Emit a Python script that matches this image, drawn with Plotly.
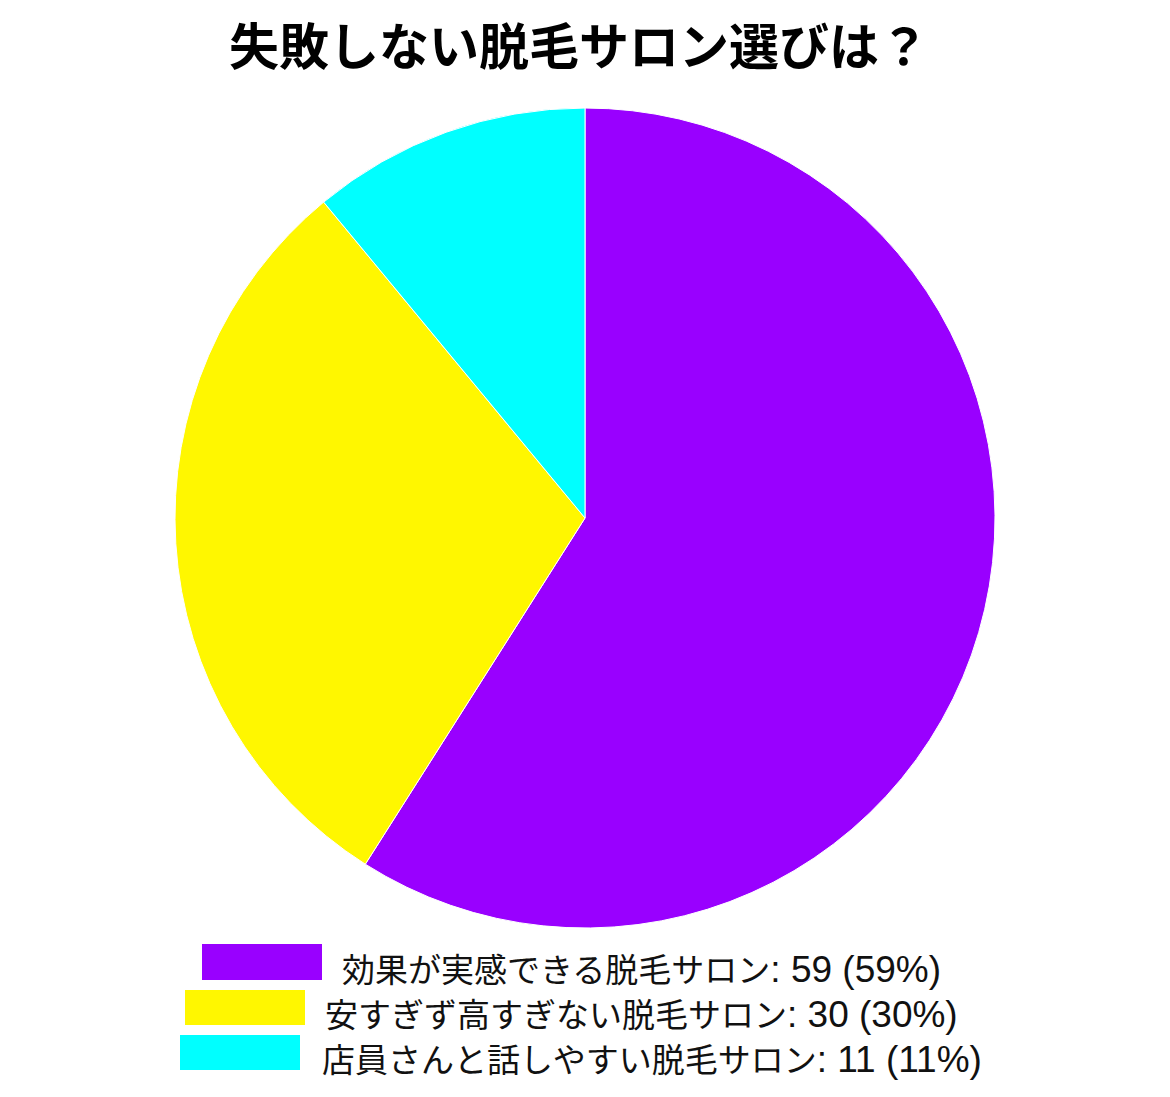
import plotly.graph_objects as go

title = "失敗しない脱毛サロン選びは？"
labels = ["効果が実感できる脱毛サロン", "安すぎず高すぎない脱毛サロン", "店員さんと話しやすい脱毛サロン"]
values = [59, 30, 11]
colors = ["#9900FF", "#FFF700", "#00FFFF"]

W, H = 1170, 1097
OFF = 8  # page body margin in the browser
font_jp = "Liberation Sans, Noto Sans CJK JP, sans-serif"


def px(x):
    return (x - OFF) / W


def py(y):
    return 1 - (y - OFF) / H


fig = go.Figure(go.Pie(
    labels=labels,
    values=values,
    sort=False,
    direction="clockwise",
    rotation=0,
    marker=dict(colors=colors, line=dict(color="white", width=1)),
    textinfo="none",
    hoverinfo="label+value+percent",
    domain=dict(x=[px(175), px(995)], y=[py(928), py(108)]),
))

# custom legend: wide colour blocks with text next to them
rects = [(202, 322, 944, 980), (185, 305, 990, 1025), (180, 300, 1035, 1070)]
text_x = [340, 323, 320]
total = sum(values)
shapes = []
annotations = []
for i, (lab, val) in enumerate(zip(labels, values)):
    x0, x1, y0, y1 = rects[i]
    shapes.append(dict(type="rect", xref="paper", yref="paper",
                       x0=px(x0), x1=px(x1), y0=py(y1), y1=py(y0),
                       fillcolor=colors[i], line=dict(width=0)))
    pct = round(val / total * 100)
    annotations.append(dict(
        text=f"{lab}<span style='font-size:37px'>: {val} ({pct}%)</span>",
        xref="paper", yref="paper",
        x=px(text_x[i]), y=py((y0 + y1) / 2 + 7),
        xanchor="left", yanchor="middle", showarrow=False,
        font=dict(family=font_jp, size=33, color="#111111"),
    ))

annotations.append(dict(
    text=f"<b>{title}</b>", xref="paper", yref="paper",
    x=px(579), y=py(43), xanchor="center", yanchor="middle", showarrow=False,
    font=dict(family="Noto Sans CJK JP, sans-serif", size=50, color="#000000"),
))

fig.update_layout(
    width=W, height=H,
    margin=dict(l=0, r=0, t=0, b=0),
    paper_bgcolor="white",
    showlegend=False,
    shapes=shapes,
    annotations=annotations,
)

fig.write_html("out.html")
